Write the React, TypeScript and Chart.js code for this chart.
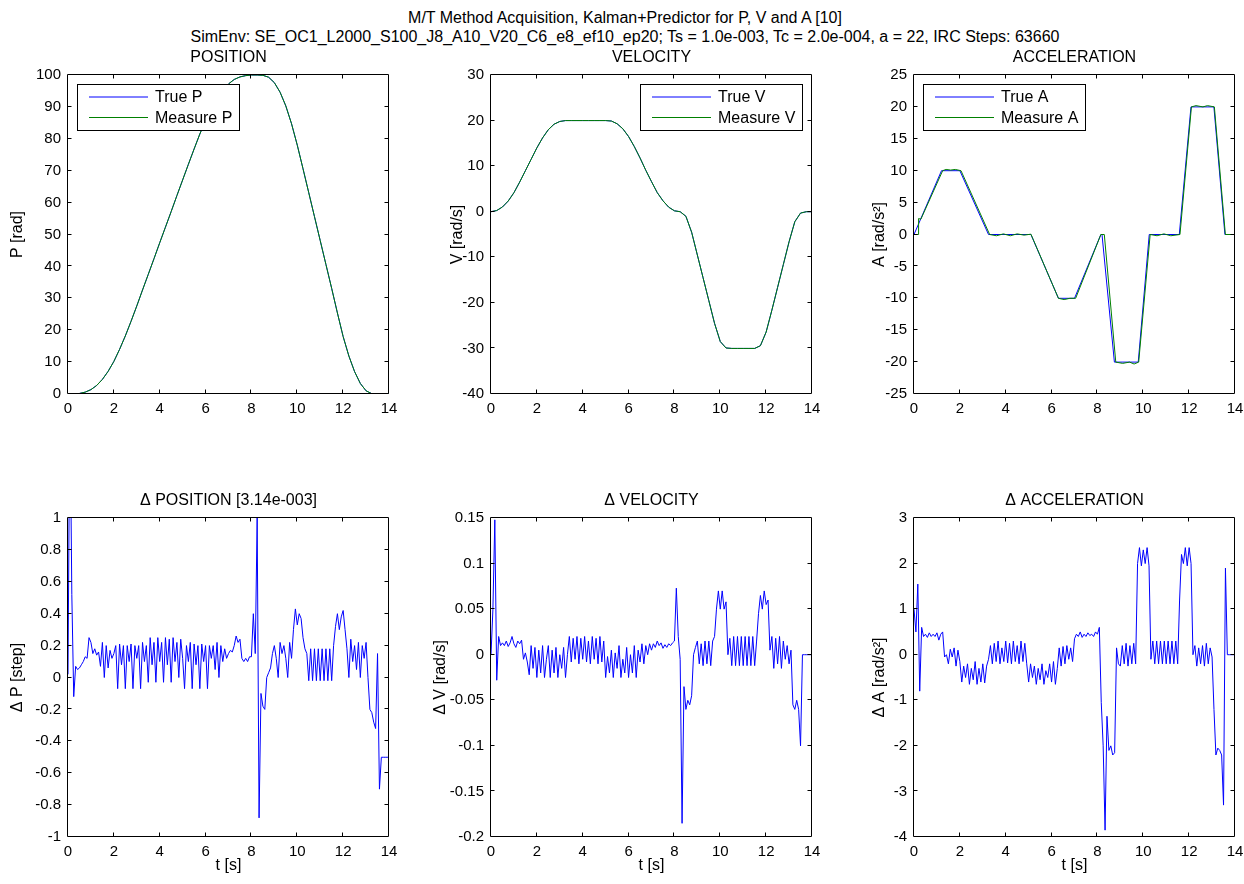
import React, { useEffect, useRef } from "react";
import { Chart, registerables } from "chart.js";

Chart.register(...registerables);

const FONT = "'Liberation Sans', Arial, Helvetica, sans-serif";
const FS_TICK = 15;
const FS_TEXT = 16;

// ---------- data ----------
const SUPTITLE_1 = "M/T Method Acquisition, Kalman+Predictor for P, V and A [10]";
const SUPTITLE_2 =
  "SimEnv: SE_OC1_L2000_S100_J8_A10_V20_C6_e8_ef10_ep20; Ts = 1.0e-003, Tc = 2.0e-004, a = 22, IRC Steps: 63660";

const X_TICKS = { min: 0, max: 14, step: 2 };

// top row sampled every 0.25 s (t = 0 .. 14)
const STEP_TOP = 0.25;
const P_TRUE = [
  0, 0.02, 0.17, 0.58, 1.37, 2.67, 4.58, 7.1, 10.2, 14.0, 18.2, 22.8, 27.6, 32.6,
  37.5, 42.4, 47.4, 52.3, 57.2, 62.2, 67.1,
  72.0, 76.8, 81.5, 85.7, 89.5, 92.7, 95.4, 97.2, 98.6, 99.4, 99.8, 100, 100,
  99.9, 99.3, 97.6, 94.6, 90.3, 84.7, 78.0, 70.6,
  63.1, 55.6, 48.1, 40.6, 33.1,
  25.4, 18.0, 11.9, 7.0, 3.3, 1.0, 0.1, 0, 0, 0,
];
const P_MEAS = P_TRUE;
const V_TRUE = [
  0, 0.26, 1.04, 2.34, 4.17, 6.5, 9.0, 11.5, 14.0, 16.2, 18.0, 19.2, 19.8, 20.0,
  20, 20, 20, 20, 20, 20, 20,
  19.9, 19.3, 18.2, 16.5, 14.3, 11.8, 9.1, 6.6, 4.2, 2.4, 1.0, 0.2, 0.0,
  -1.0, -4.5, -9.5, -14.5, -19.5, -24.5, -28.5, -29.9,
  -30, -30, -30, -30, -30,
  -29.4, -26.4, -21.6, -16.6, -11.6, -6.6, -2.2, -0.3, 0, 0,
];
const V_MEAS = V_TRUE;

// acceleration: vertices of the piecewise-linear profile
const A_TRUE_T = [0, 1.2, 2.0, 3.25, 5.1, 6.3, 7.0, 8.15, 8.2, 8.74, 9.78, 10.26, 11.57, 12.08, 13.08, 13.56, 14];
const A_TRUE_V = [0, 10, 10, 0, 0, -10, -10, 0, 0, -20, -20, 0, 0, 20, 20, 0, 0];
const A_MEAS_T = [
  0, 0.18, 0.2, 0.3, 1.25, 1.4, 1.6, 1.8, 2.05, 3.3, 3.6, 3.9, 4.2, 4.5, 4.8, 5.1, 6.3, 6.55, 6.8, 7.05,
  8.15, 8.3, 8.8, 9.1, 9.4, 9.6, 9.8, 10.3, 10.6, 10.9, 11.2, 11.6, 12.1, 12.3, 12.6, 12.8, 13.1, 13.58, 14,
];
const A_MEAS_V = [
  0, 0, 2.5, 2.4, 10, 10.2, 10.1, 10.2, 10, 0, -0.2, 0.1, -0.2, 0.1, -0.1, 0.05, -10, -10.2, -10, -10,
  0, 0, -20, -20.2, -20, -20.3, -20, 0, -0.2, 0.1, -0.2, 0, 20, 20.2, 20, 20.2, 20, 0, 0,
];

// bottom row sampled every 1/12 s (t = 0 .. 14), one line per second
const STEP_BOTTOM = 1 / 12;
const DELTA_P = [
  0.02, 1.8, 0.52, -0.12, 0.07, 0.05, 0.06, 0.08, 0.10, 0.13, 0.12, 0.25,
  0.22, 0.15, 0.18, 0.14, 0.16, 0.07, 0.22, 0.0, 0.2, 0.06, 0.17, 0.12,
  0.15, 0.2, -0.07, 0.21, 0.08, 0.2, -0.07, 0.2, 0.1, 0.21, -0.07, 0.2,
  0.12, 0.2, -0.07, 0.22, 0.1, 0.2, -0.03, 0.25, 0.08, 0.22, -0.03, 0.25,
  0.1, 0.22, -0.03, 0.25, 0.08, 0.24, -0.03, 0.25, 0.1, 0.22, 0.0, 0.24,
  0.12, -0.07, 0.2, 0.1, 0.22, -0.07, 0.21, 0.08, 0.2, -0.07, 0.21, 0.1,
  0.2, -0.07, 0.2, 0.12, 0.2, 0.05, 0.22, 0.0, 0.2, 0.1, 0.18, 0.12,
  0.15, 0.17, 0.16, 0.2, 0.26, 0.22, 0.24, 0.12, 0.1, 0.12, 0.1, 0.13,
  0.13, 0.4, 0.15, 1.0, -0.88, -0.1, -0.18, -0.2, 0.0, 0.03, 0.06, 0.15,
  0.2, 0.12, 0.0, 0.22, 0.15, 0.2, 0.12, 0.0, 0.22, 0.12, 0.3, 0.43,
  0.33, 0.4, 0.37, 0.25, 0.18, 0.15, -0.02, 0.18, -0.02, 0.18, -0.02, 0.18,
  -0.02, 0.18, -0.02, 0.18, -0.02, 0.18, -0.02, 0.2, 0.32, 0.4, 0.3, 0.38,
  0.42, 0.3, 0.18, 0.0, 0.24, 0.1, 0.2, 0.05, 0.22, 0.0, 0.2, 0.12,
  0.22, 0.0, -0.2, -0.22, -0.28, -0.32, 0.15, -0.7, -0.5, -0.5, -0.5, -0.5,
  -0.5,
];
const DELTA_V = [
  0.0, 0.05, 0.148, -0.028, 0.02, 0.01, 0.013, 0.01, 0.015, 0.009, 0.013, 0.02,
  0.012, 0.008, 0.015, 0.012, 0.016, -0.005, 0.002, -0.008, -0.022, 0.01, -0.015, 0.008,
  -0.025, 0.005, -0.02, 0.01, -0.025, -0.005, 0.01, -0.025, 0.005, -0.02, 0.008, -0.025,
  0.0, -0.015, 0.008, -0.025, 0.0, 0.02, -0.008, 0.018, -0.005, 0.02, -0.01, 0.018,
  -0.005, 0.02, -0.008, 0.015, -0.01, 0.02, -0.005, 0.018, -0.01, 0.02, -0.008, 0.015,
  -0.025, -0.002, -0.02, 0.005, -0.025, 0.002, -0.015, 0.01, -0.025, -0.005, -0.02, 0.008,
  -0.025, 0.0, -0.02, 0.01, -0.025, 0.005, -0.008, 0.012, -0.01, 0.01, 0.0, 0.012,
  0.005, 0.012, 0.008, 0.015, 0.01, 0.013, 0.007, 0.011, 0.008, 0.012, 0.01, 0.013,
  0.015, 0.073, 0.02, -0.005, -0.185, -0.035, -0.06, -0.05, -0.055, -0.045, 0.0, 0.008,
  0.015, -0.01, 0.012, -0.012, 0.015, -0.01, 0.015, -0.012, 0.015, 0.02, 0.05, 0.07,
  0.05, 0.07, 0.05, 0.058, 0.0, 0.018, -0.012, 0.02, -0.012, 0.02, -0.012, 0.02,
  -0.012, 0.02, -0.012, 0.02, -0.012, 0.02, -0.012, 0.015, 0.045, 0.065, 0.05, 0.07,
  0.055, 0.06, 0.005, 0.02, -0.015, 0.018, -0.01, 0.02, -0.015, 0.015, -0.005, 0.01,
  -0.01, 0.005, -0.055, -0.06, -0.05, -0.06, -0.1, 0.0, 0.0, 0.0, 0.0, 0.0,
  0.0,
];
const DELTA_A = [
  1.0, 0.5, 1.55, -0.8, 0.6, 0.4, 0.45, 0.38, 0.48, 0.4, 0.45, 0.4,
  0.48, 0.32, 0.45, 0.5, -0.05, 0.0, -0.2, 0.12, -0.05, 0.15, -0.25, 0.1,
  -0.15, -0.6, -0.25, -0.5, -0.2, -0.65, -0.3, -0.55, -0.15, -0.65, -0.3, -0.6,
  -0.2, -0.62, -0.25, -0.1, 0.2, -0.2, 0.25, -0.15, 0.3, -0.2, 0.15, -0.15,
  0.3, -0.18, 0.25, -0.2, 0.3, -0.15, 0.2, -0.2, 0.3, -0.15, 0.25, -0.2,
  -0.6, -0.2, -0.5, -0.25, -0.65, -0.3, -0.55, -0.2, -0.65, -0.35, -0.5, -0.2,
  -0.6, -0.15, -0.65, -0.3, 0.15, -0.25, 0.18, -0.2, 0.2, -0.1, 0.15, -0.15,
  0.35, 0.45, 0.4, 0.5, 0.38, 0.45, 0.4, 0.48, 0.42, 0.45, 0.4, 0.5,
  0.45, 0.6, -1.05, -2.0, -3.85, -1.35, -2.1, -2.0, -2.2, -2.15, 0.15, -0.2,
  -0.25, 0.2, -0.2, 0.25, -0.25, 0.2, -0.2, 0.25, -0.2, 2.0, 2.35, 1.95,
  2.3, 2.0, 2.35, 1.95, -0.1, 0.3, -0.2, 0.3, -0.2, 0.3, -0.2, 0.3,
  -0.2, 0.3, -0.2, 0.3, -0.2, 0.3, -0.2, 1.2, 2.2, 2.0, 2.35, 1.95,
  2.35, 2.0, 0.0, 0.2, -0.25, 0.15, -0.2, 0.2, -0.25, 0.25, -0.2, 0.15,
  -0.05, -1.2, -2.2, -2.05, -2.1, -2.2, -3.3, 1.9, 0.0, 0.0, 0.0, 0.0,
  0.0,
];

const BLUE = "#0000ff";
const GREEN = "#008000";

// ---------- helpers ----------
type Pt = { x: number; y: number };
const sampled = (vals: number[], step: number): Pt[] => vals.map((y, i) => ({ x: i * step, y }));
const paired = (ts: number[], vs: number[]): Pt[] => ts.map((x, i) => ({ x, y: vs[i] }));
const fmt = (v: number) => String(Math.round(v * 1000) / 1000);

type Series = { data: Pt[]; color: string; label: string };
type Spec = {
  left: number;
  top: number;
  title: string;
  yLabel: string;
  yLabelX: number;
  xLabel?: string;
  yMin: number;
  yMax: number;
  yStep: number;
  series: Series[];
  legend?: "left" | "right";
};

const PW = 321;
const PH = 319;
const PAD_L = 60;
const PAD_T = 30;
const PAD_R = 15;
const PAD_B = 50;

function Panel({ spec }: { spec: Spec }) {
  const ref = useRef<HTMLCanvasElement | null>(null);
  const cLeft = spec.left - PAD_L;
  const cTop = spec.top - PAD_T;
  const cW = PAD_L + PW + PAD_R;
  const cH = PAD_T + PH + PAD_B;

  useEffect(() => {
    const canvas = ref.current;
    if (!canvas) return;
    const deco = {
      id: "matlabDeco",
      afterDatasetsDraw(chart: any) {
        if (!spec.legend) return;
        const ctx = chart.ctx as CanvasRenderingContext2D;
        const a = chart.chartArea;
        const bw = 162;
        const bh = 46;
        const bx = spec.legend === "left" ? Math.round(a.left + 9) : Math.round(a.right - 10 - bw);
        const by = Math.round(a.top + 9);
        ctx.save();
        ctx.fillStyle = "#ffffff";
        ctx.fillRect(bx, by, bw, bh);
        ctx.strokeStyle = "#000000";
        ctx.lineWidth = 1;
        ctx.strokeRect(bx + 0.5, by + 0.5, bw, bh);
        ctx.font = `${FS_TEXT}px ${FONT}`;
        ctx.textBaseline = "middle";
        ctx.textAlign = "left";
        spec.series.forEach((s, i) => {
          const y = by + 13 + i * 20.5;
          ctx.strokeStyle = s.color;
          ctx.lineWidth = 1;
          ctx.beginPath();
          ctx.moveTo(bx + 12, y);
          ctx.lineTo(bx + 71, y);
          ctx.stroke();
          ctx.fillStyle = "#000000";
          ctx.fillText(s.label, bx + 78, Math.round(y) + 1);
        });
        ctx.restore();
      },
      afterDraw(chart: any) {
        const ctx = chart.ctx as CanvasRenderingContext2D;
        const a = chart.chartArea;
        const xs = chart.scales.x;
        const ys = chart.scales.y;
        const L = a.left - 0.5;
        const R = a.right - 0.5;
        const T = a.top - 0.5;
        const B = a.bottom - 0.5;
        ctx.save();
        ctx.strokeStyle = "#000000";
        ctx.lineWidth = 1;
        ctx.beginPath();
        ctx.rect(L, T, R - L, B - T);
        const tl = 4;
        xs.ticks.forEach((t: any) => {
          const px = Math.round(xs.getPixelForValue(t.value)) - 0.5;
          if (px <= L + 1 || px >= R - 1) return;
          ctx.moveTo(px, B);
          ctx.lineTo(px, B - tl);
          ctx.moveTo(px, T);
          ctx.lineTo(px, T + tl);
        });
        ys.ticks.forEach((t: any) => {
          const py = Math.round(ys.getPixelForValue(t.value)) - 0.5;
          if (py <= T + 1 || py >= B - 1) return;
          ctx.moveTo(L, py);
          ctx.lineTo(L + tl, py);
          ctx.moveTo(R, py);
          ctx.lineTo(R - tl, py);
        });
        ctx.stroke();

        ctx.fillStyle = "#000000";
        ctx.font = `${FS_TEXT}px ${FONT}`;
        ctx.textAlign = "center";
        ctx.textBaseline = "middle";
        const cx = (a.left + a.right) / 2;
        ctx.fillText(spec.title, cx, a.top - 17);
        if (spec.xLabel) ctx.fillText(spec.xLabel, cx, a.bottom + 29);
        ctx.translate(spec.yLabelX - cLeft, (a.top + a.bottom) / 2);
        ctx.rotate(-Math.PI / 2);
        ctx.fillText(spec.yLabel, 0, 0);
        ctx.restore();
      },
    };

    const tickFont = { family: FONT, size: FS_TICK };
    const chart = new Chart(canvas, {
      type: "line",
      data: {
        datasets: spec.series.map((s, i) => ({
          label: s.label,
          data: s.data,
          borderColor: s.color,
          backgroundColor: s.color,
          borderWidth: 1,
          pointRadius: 0,
          tension: 0,
          fill: false,
          order: spec.series.length - i,
        })),
      },
      options: {
        responsive: false,
        maintainAspectRatio: false,
        animation: false,
        events: [],
        parsing: false,
        normalized: true,
        layout: { padding: { top: PAD_T, right: PAD_R, left: 0, bottom: 0 } },
        plugins: {
          legend: { display: false },
          tooltip: { enabled: false },
          title: { display: false },
        },
        scales: {
          x: {
            type: "linear",
            min: X_TICKS.min,
            max: X_TICKS.max,
            grid: { display: false, drawTicks: false },
            border: { display: false },
            ticks: {
              stepSize: X_TICKS.step,
              padding: 6,
              color: "#000000",
              font: tickFont,
              maxRotation: 0,
              autoSkip: false,
              callback: (v: any) => fmt(Number(v)),
            },
            afterFit: (s: any) => {
              s.height = PAD_B;
            },
          },
          y: {
            type: "linear",
            min: spec.yMin,
            max: spec.yMax,
            grid: { display: false, drawTicks: false },
            border: { display: false },
            ticks: {
              stepSize: spec.yStep,
              padding: 7,
              color: "#000000",
              font: tickFont,
              autoSkip: false,
              callback: (v: any) => fmt(Number(v)),
            },
            afterFit: (s: any) => {
              s.width = PAD_L;
            },
          },
        },
      } as any,
      plugins: [deco as any],
    });
    return () => chart.destroy();
  }, [spec]);

  return (
    <canvas
      ref={ref}
      width={cW}
      height={cH}
      style={{ position: "absolute", left: cLeft, top: cTop, width: cW, height: cH }}
    />
  );
}

const COLS = [68, 491, 914];
const ROWS = [75, 518];

const SPECS: Spec[] = [
  {
    left: COLS[0], top: ROWS[0], title: "POSITION", yLabel: "P [rad]", yLabelX: 18,
    yMin: 0, yMax: 100, yStep: 10, legend: "left",
    series: [
      { data: sampled(P_TRUE, STEP_TOP), color: BLUE, label: "True P" },
      { data: sampled(P_MEAS, STEP_TOP), color: GREEN, label: "Measure P" },
    ],
  },
  {
    left: COLS[1], top: ROWS[0], title: "VELOCITY", yLabel: "V [rad/s]", yLabelX: 458,
    yMin: -40, yMax: 30, yStep: 10, legend: "right",
    series: [
      { data: sampled(V_TRUE, STEP_TOP), color: BLUE, label: "True V" },
      { data: sampled(V_MEAS, STEP_TOP), color: GREEN, label: "Measure V" },
    ],
  },
  {
    left: COLS[2], top: ROWS[0], title: "ACCELERATION", yLabel: "A [rad/s²]", yLabelX: 880,
    yMin: -25, yMax: 25, yStep: 5, legend: "left",
    series: [
      { data: paired(A_TRUE_T, A_TRUE_V), color: BLUE, label: "True A" },
      { data: paired(A_MEAS_T, A_MEAS_V), color: GREEN, label: "Measure A" },
    ],
  },
  {
    left: COLS[0], top: ROWS[1], title: "Δ POSITION [3.14e-003]", yLabel: "Δ P [step]", yLabelX: 18,
    xLabel: "t [s]", yMin: -1, yMax: 1, yStep: 0.2,
    series: [{ data: sampled(DELTA_P, STEP_BOTTOM), color: BLUE, label: "Δ P" }],
  },
  {
    left: COLS[1], top: ROWS[1], title: "Δ VELOCITY", yLabel: "Δ V [rad/s]", yLabelX: 441,
    xLabel: "t [s]", yMin: -0.2, yMax: 0.15, yStep: 0.05,
    series: [{ data: sampled(DELTA_V, STEP_BOTTOM), color: BLUE, label: "Δ V" }],
  },
  {
    left: COLS[2], top: ROWS[1], title: "Δ ACCELERATION", yLabel: "Δ A [rad/s²]", yLabelX: 880,
    xLabel: "t [s]", yMin: -4, yMax: 3, yStep: 1,
    series: [{ data: sampled(DELTA_A, STEP_BOTTOM), color: BLUE, label: "Δ A" }],
  },
];

export default function App() {
  return (
    <div
      style={{
        position: "absolute",
        left: 0,
        top: 0,
        width: 1244,
        height: 884,
        background: "#ffffff",
        overflow: "hidden",
        fontFamily: FONT,
      }}
    >
      <div
        style={{
          position: "absolute",
          left: 3,
          top: 8,
          width: 1244,
          textAlign: "center",
          fontSize: FS_TEXT,
          lineHeight: "19px",
          color: "#000",
          whiteSpace: "nowrap",
        }}
      >
        <div>{SUPTITLE_1}</div>
        <div>{SUPTITLE_2}</div>
      </div>
      {SPECS.map((s, i) => (
        <Panel key={i} spec={s} />
      ))}
    </div>
  );
}
